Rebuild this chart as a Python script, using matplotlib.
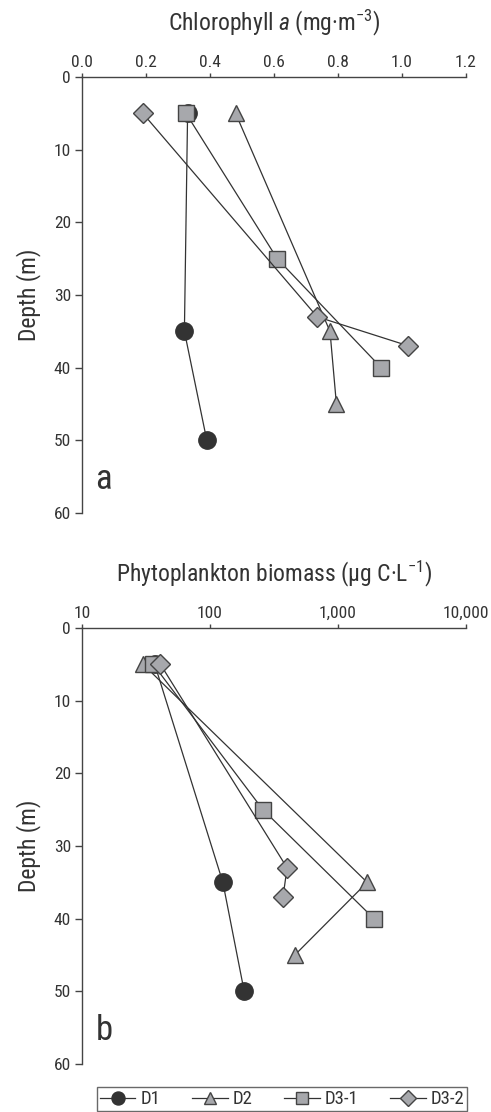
import matplotlib
matplotlib.use("Agg")
import matplotlib.pyplot as plt
from matplotlib.lines import Line2D

FONT = 'Roboto Condensed'
plt.rcParams['font.family'] = [FONT, 'DejaVu Sans']
plt.rcParams['mathtext.fontset'] = 'custom'
plt.rcParams['mathtext.rm'] = FONT
plt.rcParams['mathtext.it'] = FONT + ':italic'
plt.rcParams['mathtext.default'] = 'rm'

# ---- data ----
series = ["D1", "D2", "D3-1", "D3-2"]

chl_depth_D1 = [5, 35, 50]
chl_D1 = [0.33, 0.32, 0.39]
chl_depth_D2 = [5, 35, 45]
chl_D2 = [0.48, 0.775, 0.795]
chl_depth_D31 = [5, 25, 40]
chl_D31 = [0.325, 0.61, 0.935]
chl_depth_D32 = [5, 33, 37]
chl_D32 = [0.19, 0.735, 1.02]

bio_depth_D1 = [5, 35, 50]
bio_D1 = [37, 126, 185]
bio_depth_D2 = [5, 35, 45]
bio_D2 = [30, 1690, 460]
bio_depth_D31 = [5, 25, 40]
bio_D31 = [36, 259, 1910]
bio_depth_D32 = [5, 33, 37]
bio_D32 = [41, 400, 372]

chl_ticks = [0.0, 0.2, 0.4, 0.6, 0.8, 1.0, 1.2]
chl_ticklabels = ["0.0", "0.2", "0.4", "0.6", "0.8", "1.0", "1.2"]
bio_ticks = [10, 100, 1000, 10000]
bio_ticklabels = ["10", "100", "1,000", "10,000"]
depth_ticks = [0, 10, 20, 30, 40, 50, 60]

# ---- style ----
TXT = '#333333'
LINE = '#333333'
GRAY = '#a7a8ac'
styles = {
    "D1": dict(marker='o', ms=12.5, mfc='#333333', mec='#333333'),
    "D2": dict(marker='^', ms=12, mfc=GRAY, mec='#444444'),
    "D3-1": dict(marker='s', ms=11, mfc=GRAY, mec='#444444'),
    "D3-2": dict(marker='D', ms=10.5, mfc=GRAY, mec='#444444'),
}

W, H = 491, 1112
fig = plt.figure(figsize=(W/100, H/100), dpi=100)

def ax_rect(l, r, t, b):
    return [l/W, 1 - b/H, (r - l)/W, (b - t)/H]

ax1 = fig.add_axes(ax_rect(82, 466, 77, 513))
ax2 = fig.add_axes(ax_rect(82, 466, 628, 1064))

TICK_FS = 12.5
TITLE_FS = 17

def style_axis(ax):
    for s in ['right', 'bottom']:
        ax.spines[s].set_visible(False)
    for s in ['left', 'top']:
        ax.spines[s].set_color('#444444')
        ax.spines[s].set_linewidth(1.0)
    ax.xaxis.tick_top()
    ax.xaxis.set_label_position('top')
    ax.tick_params(axis='x', direction='out', length=3, width=1, colors='#444444',
                   labelcolor=TXT, labelsize=TICK_FS, pad=2)
    ax.tick_params(axis='y', direction='out', length=5, width=1, colors='#444444',
                   labelcolor=TXT, labelsize=TICK_FS, pad=3)
    ax.tick_params(axis='x', which='minor', length=0)
    ax.set_ylim(60, 0)
    ax.set_yticks(depth_ticks)
    ax.set_yticklabels([str(d) for d in depth_ticks])
    ax.set_ylabel("Depth (m)", fontsize=TITLE_FS, color=TXT, labelpad=9)

chl = [(chl_D1, chl_depth_D1), (chl_D2, chl_depth_D2), (chl_D31, chl_depth_D31), (chl_D32, chl_depth_D32)]
bio = [(bio_D1, bio_depth_D1), (bio_D2, bio_depth_D2), (bio_D31, bio_depth_D31), (bio_D32, bio_depth_D32)]

for name, (x, d) in zip(series, chl):
    ax1.plot(x, d, color=LINE, lw=0.9, mew=1.0, clip_on=False, **styles[name])
for name, (x, d) in zip(series, bio):
    ax2.plot(x, d, color=LINE, lw=0.9, mew=1.0, clip_on=False, **styles[name])

style_axis(ax1)
ax1.set_xlim(0, 1.2)
ax1.set_xticks(chl_ticks)
ax1.set_xticklabels(chl_ticklabels)
ax1.set_xlabel(r"Chlorophyll $\mathit{a}$ (mg·m$^{-3}$)", fontsize=TITLE_FS, color=TXT, labelpad=18)
ax1.text(0.035, 0.055, "a", transform=ax1.transAxes, fontsize=25, color=TXT, ha='left', va='baseline')

style_axis(ax2)
ax2.set_xscale('log')
ax2.set_xlim(10, 10000)
ax2.set_xticks(bio_ticks)
ax2.set_xticklabels(bio_ticklabels)
ax2.minorticks_off()
ax2.set_xlabel(r"Phytoplankton biomass (µg C·L$^{-1}$)", fontsize=TITLE_FS, color=TXT, labelpad=18)
ax2.text(0.035, 0.055, "b", transform=ax2.transAxes, fontsize=25, color=TXT, ha='left', va='baseline')

handles = [Line2D([], [], color=LINE, lw=0.9, mew=1.0, **styles[n]) for n in series]
leg = fig.legend(handles, series, loc='lower left', bbox_to_anchor=(97/W, 1/H, (467-97)/W, 24/H),
                 mode='expand', ncol=4, frameon=True, fancybox=False, fontsize=13.5,
                 markerscale=0.75, handlelength=1.9, handletextpad=0.25, columnspacing=1.0,
                 borderpad=0.15, borderaxespad=0)
leg.get_frame().set_edgecolor('#444444')
leg.get_frame().set_linewidth(1.0)
for t in leg.get_texts():
    t.set_color(TXT)

fig.savefig("out.png", dpi=100)
